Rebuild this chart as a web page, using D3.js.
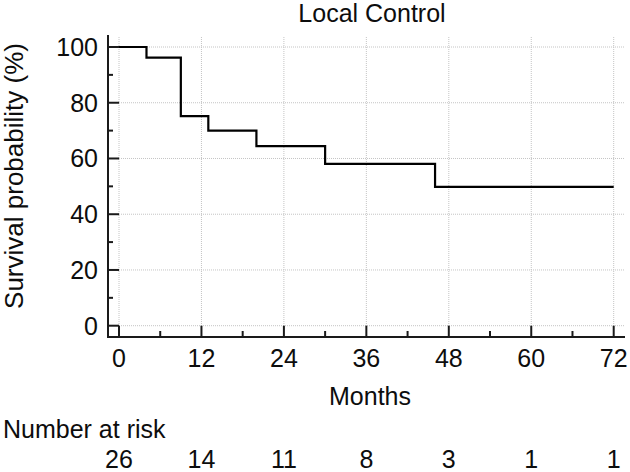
<!DOCTYPE html>
<html><head><meta charset="utf-8">
<script src="https://cdn.jsdelivr.net/npm/d3@7"></script>
<style>
html,body{margin:0;padding:0;background:#fff;}
svg{display:block;font-family:"Liberation Sans",Arial,sans-serif;}
</style></head>
<body><svg id="c" width="630" height="472"></svg>
<script>
const stepTimes = [0, 4, 9, 13, 20, 30, 46, 72];
const stepSurvival = [100, 96.2, 75.2, 70.0, 64.4, 58.1, 49.8, 49.8];
const xTicks = [0, 12, 24, 36, 48, 60, 72];
const xMinorTicks = [6, 18, 30, 42, 54, 66];
const yTicks = [0, 20, 40, 60, 80, 100];
const yMinorTicks = [10, 30, 50, 70, 90];
const riskTimes = [0, 12, 24, 36, 48, 60, 72];
const atRisk = [26, 14, 11, 8, 3, 1, 1];

const svg = d3.select("#c");
const x = d3.scaleLinear().domain([0, 72]).range([119, 613.7]);
const y = d3.scaleLinear().domain([0, 100]).range([325.7, 47]);
const axisX = 108, axisY = 337, gridRight = 625, gridTop = 37;
const fs = 25;
const tc = "#0d0d0d";

// grid
svg.append("g").selectAll("line").data(yTicks).join("line")
  .attr("x1", x(0)).attr("x2", gridRight).attr("y1", d => y(d)).attr("y2", d => y(d))
  .attr("stroke", "#c4c4c4").attr("stroke-width", 1).attr("stroke-dasharray", "1,1");
svg.append("g").selectAll("line").data(xTicks).join("line")
  .attr("x1", d => x(d)).attr("x2", d => x(d)).attr("y1", gridTop).attr("y2", y(0))
  .attr("stroke", "#c4c4c4").attr("stroke-width", 1).attr("stroke-dasharray", "1,1");

// axes lines
const axc = "#1a1a1a";
svg.append("line").attr("x1", axisX).attr("x2", axisX).attr("y1", 35).attr("y2", axisY + 1)
  .attr("stroke", axc).attr("stroke-width", 2);
svg.append("line").attr("x1", axisX - 1).attr("x2", gridRight).attr("y1", axisY).attr("y2", axisY)
  .attr("stroke", axc).attr("stroke-width", 2);

// y ticks
svg.append("g").selectAll("line").data(yTicks).join("line")
  .attr("x1", axisX).attr("x2", x(0)).attr("y1", d => y(d)).attr("y2", d => y(d))
  .attr("stroke", axc).attr("stroke-width", 2);
svg.append("g").selectAll("line").data(yMinorTicks).join("line")
  .attr("x1", axisX).attr("x2", axisX + 5).attr("y1", d => y(d)).attr("y2", d => y(d))
  .attr("stroke", axc).attr("stroke-width", 2);
// x ticks
svg.append("g").selectAll("line").data(xTicks).join("line")
  .attr("x1", d => x(d)).attr("x2", d => x(d)).attr("y1", axisY).attr("y2", y(0))
  .attr("stroke", axc).attr("stroke-width", 2);
svg.append("g").selectAll("line").data(xMinorTicks).join("line")
  .attr("x1", d => x(d)).attr("x2", d => x(d)).attr("y1", axisY).attr("y2", axisY - 6)
  .attr("stroke", axc).attr("stroke-width", 2);

// tick labels
svg.append("g").selectAll("text").data(yTicks).join("text")
  .attr("x", 98).attr("y", d => y(d)).attr("dy", "0.36em").attr("text-anchor", "end")
  .attr("font-size", fs).attr("fill", tc).text(d => d);
svg.append("g").selectAll("text").data(xTicks).join("text")
  .attr("x", d => x(d)).attr("y", 367).attr("text-anchor", "middle")
  .attr("font-size", fs).attr("fill", tc).text(d => d);

// curve
const pts = stepTimes.map((t, i) => [t, stepSurvival[i]]);
svg.append("path").datum(pts)
  .attr("d", d3.line().x(d => x(d[0])).y(d => y(d[1])).curve(d3.curveStepAfter))
  .attr("fill", "none").attr("stroke", "#000").attr("stroke-width", 2.2);

// titles
svg.append("text").attr("x", 372).attr("y", 22).attr("text-anchor", "middle")
  .attr("font-size", fs).attr("fill", tc).text("Local Control");
svg.append("text").attr("x", 370).attr("y", 405).attr("text-anchor", "middle")
  .attr("font-size", fs).attr("fill", tc).text("Months");
svg.append("text").attr("transform", "translate(23,176) rotate(-90)").attr("text-anchor", "middle")
  .attr("font-size", 26).attr("fill", tc).text("Survival probability (%)");

// number at risk
svg.append("text").attr("x", 3).attr("y", 438).attr("font-size", fs).attr("fill", tc).text("Number at risk");
svg.append("g").selectAll("text").data(riskTimes).join("text")
  .attr("x", d => x(d)).attr("y", 468).attr("text-anchor", "middle")
  .attr("font-size", fs).attr("fill", tc).text((d, i) => atRisk[i]);
</script></body></html>
